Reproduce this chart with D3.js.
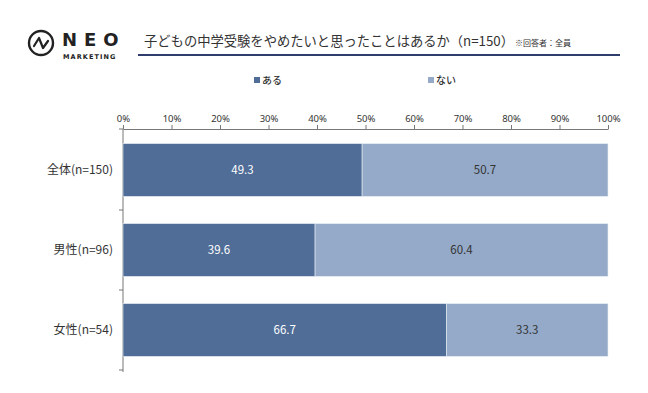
<!DOCTYPE html>
<html>
<head>
<meta charset="utf-8">
<script src="https://cdn.jsdelivr.net/npm/d3@7"></script>
<style>
  body { margin: 0; background: #fff; }
  svg { font-family: "Noto Sans CJK JP", "Noto Sans", sans-serif; }
</style>
</head>
<body>
<svg id="chart" width="648" height="393"></svg>
<script>
// data
var categories = ["全体(n=150)", "男性(n=96)", "女性(n=54)"];
var seriesNames = ["ある", "ない"];
var aruValues = [49.3, 39.6, 66.7];
var naiValues = [50.7, 60.4, 33.3];
var tickValues = [0, 10, 20, 30, 40, 50, 60, 70, 80, 90, 100];
var colors = ["#4f6d97", "#94aac8"];

const svg = d3.select("#chart");

// logo
svg.append("circle").attr("cx", 41).attr("cy", 43).attr("r", 12)
   .attr("fill", "none").attr("stroke", "#222").attr("stroke-width", 2.4);
svg.append("path").attr("d", "M34,46 L39,38 L43,48 L48,41")
   .attr("fill", "none").attr("stroke", "#222").attr("stroke-width", 2.2)
   .attr("stroke-linejoin", "round").attr("stroke-linecap", "round");
svg.append("text").attr("x", 62).attr("y", 46).text("NEO")
   .style("font-family", "DejaVu Sans").style("font-weight", "bold")
   .style("font-size", "18px").style("letter-spacing", "7px").attr("fill", "#222");
svg.append("text").attr("x", 63).attr("y", 59).text("MARKETING")
   .style("font-family", "DejaVu Sans").style("font-weight", "bold")
   .style("font-size", "6.5px").style("letter-spacing", "1.1px").attr("fill", "#222");

// title
svg.append("text").attr("x", 144).attr("y", 46)
   .text("子どもの中学受験をやめたいと思ったことはあるか（n=150）")
   .style("font-size", "13.3px").attr("fill", "#333");
svg.append("text").attr("x", 515).attr("y", 46).text("※回答者：全員")
   .style("font-size", "8px").attr("fill", "#333");
svg.append("line").attr("x1", 138).attr("x2", 620).attr("y1", 55).attr("y2", 55)
   .attr("stroke", "#2e3d6b").attr("stroke-width", 1.8);

// legend
var legendX = [254, 428];
seriesNames.forEach(function(n, i) {
  svg.append("rect").attr("x", legendX[i]).attr("y", 77).attr("width", 6).attr("height", 6)
     .attr("fill", colors[i]);
  svg.append("text").attr("x", legendX[i] + 8).attr("y", 84).text(n)
     .style("font-size", "10px").style("font-weight", "500").attr("fill", "#333");
});

// scales
const x = d3.scaleLinear().domain([0, 100]).range([123, 608]);
const y = d3.scaleBand().domain(categories).range([130, 370]).paddingInner(0.34).paddingOuter(0.17);

// top axis
const xAxis = svg.append("g").attr("transform", "translate(0,129)")
   .call(d3.axisTop(x).tickValues(tickValues).tickFormat(d => d + "%").tickSize(4).tickSizeOuter(0));
xAxis.select(".domain").attr("stroke", "#777");
xAxis.selectAll(".tick line").attr("stroke", "#777");
xAxis.selectAll("text").style("font-size", "9.5px").attr("fill", "#333")
   .style("font-family", "\"Noto Sans\", sans-serif").attr("y", -7);

// left axis line with ticks between groups
svg.append("line").attr("x1", 123).attr("x2", 123).attr("y1", 129).attr("y2", 372)
   .attr("stroke", "#777");
[129, 210, 290, 370].forEach(function(t) {
  svg.append("line").attr("x1", 119).attr("x2", 123).attr("y1", t).attr("y2", t).attr("stroke", "#777");
});

// bars
var rows = categories.map((c, i) => ({cat: c, a: aruValues[i], n: naiValues[i]}));
const g = svg.append("g");
g.selectAll(".aru").data(rows).enter().append("rect")
  .attr("x", x(0)).attr("y", d => y(d.cat))
  .attr("width", d => x(d.a) - x(0)).attr("height", y.bandwidth())
  .attr("fill", colors[0]).attr("stroke", "#e8eef6").attr("stroke-width", 0.6);
g.selectAll(".nai").data(rows).enter().append("rect")
  .attr("x", d => x(d.a)).attr("y", d => y(d.cat))
  .attr("width", d => x(d.a + d.n) - x(d.a)).attr("height", y.bandwidth())
  .attr("fill", colors[1]).attr("stroke", "#e8eef6").attr("stroke-width", 0.6);

g.selectAll(".la").data(rows).enter().append("text")
  .attr("x", d => (x(0) + x(d.a)) / 2).attr("y", d => y(d.cat) + y.bandwidth() / 2 + 4)
  .attr("text-anchor", "middle").text(d => d.a.toFixed(1))
  .style("font-size", "11.5px").attr("fill", "#fff");
g.selectAll(".ln").data(rows).enter().append("text")
  .attr("x", d => (x(d.a) + x(d.a + d.n)) / 2).attr("y", d => y(d.cat) + y.bandwidth() / 2 + 4)
  .attr("text-anchor", "middle").text(d => d.n.toFixed(1))
  .style("font-size", "11.5px").attr("fill", "#333");

// category labels
svg.selectAll(".cat").data(categories).enter().append("text")
  .attr("x", 113).attr("y", d => y(d) + y.bandwidth() / 2 + 4)
  .attr("text-anchor", "end").text(d => d)
  .style("font-size", "12px").attr("fill", "#333");
</script>
</body>
</html>
